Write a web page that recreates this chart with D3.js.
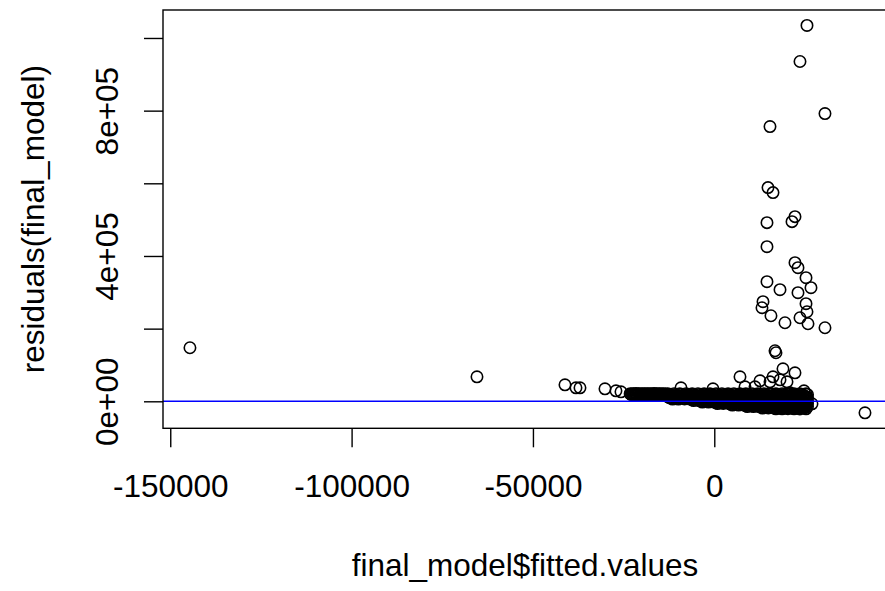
<!DOCTYPE html>
<html>
<head>
<meta charset="utf-8">
<script src="https://cdn.jsdelivr.net/npm/d3@7"></script>
<style>
    body { margin: 0; background: #fff; }
    text { font-family: Arial, "Liberation Sans", sans-serif; fill: #000; }
</style>
</head>
<body>
<div id="scene"></div>
<script>
// tick values and labels
const xTicks = [-150000, -100000, -50000, 0];
const yTicks = [0, 200000, 400000, 600000, 800000, 1000000];
const yTickLabels = {0: '0e+00', 400000: '4e+05', 800000: '8e+05'};

const xTitle = 'final_model$fitted.values';
const yTitle = 'residuals(final_model)';

// isolated points [fitted, residual]
const outlierPoints = [
    [-144570, 147380], [-65430, 67490], [-41170, 45460], [-38130, 37190],
    [-37030, 37190], [-30140, 34440], [-27110, 28930], [-25730, 26170],
    [25560, 1034430], [23630, 935250], [30520, 792000], [15360, 756200],
    [14810, 588150], [16190, 574380], [14530, 491730], [22250, 508260],
    [21430, 494490], [14530, 425620], [22250, 381540], [23080, 367770],
    [25290, 340220], [14530, 329200], [18120, 307160], [23080, 298900],
    [26660, 312670], [13430, 274100], [13150, 257570], [15630, 235540],
    [19490, 216250], [25290, 268590], [25560, 246550], [23630, 230030],
    [25840, 213500], [30520, 202480], [16740, 139120], [17010, 133610],
    [7090, 67490], [12600, 56470], [18940, 89530], [22250, 78510],
    [16190, 67490], [18120, 59230], [20050, 53720], [24730, 28930],
    [15360, 53720], [41550, -31680], [8470, 39950], [11220, 39950],
    [20870, 23420], [22800, 17910], [-9180, 37190], [-360, 34440],
    [26940, -6890]
];

// dense band near zero, in thousands [fitted, residual]
const bandPoints = [
    [-23.2, 21.0], [-22.8, 18.5], [-22.4, 20.6], [-22.0, 18.9], [-21.6, 21.2], [-21.2, 18.4],
    [-20.8, 20.8], [-20.3, 19.0], [-19.9, 21.1], [-19.5, 18.6], [-19.1, 20.5], [-18.7, 18.8],
    [-18.3, 21.0], [-17.9, 18.3], [-17.5, 20.7], [-17.0, 18.9], [-16.6, 21.3], [-16.2, 18.5],
    [-15.8, 20.6], [-15.4, 18.7], [-15.0, 21.0], [-14.6, 18.4], [-14.1, 20.9], [-13.7, 18.8],
    [-13.3, 20.4],
    [-12.8, 20.7], [-12.8, 12.6], [-11.9, 16.3], [-11.9, 8.5], [-11.1, 20.9], [-11.1, 12.2],
    [-10.3, 16.7], [-10.3, 8.1], [-9.5, 20.5], [-9.5, 12.5], [-8.6, 16.4], [-8.6, 8.4],
    [-7.8, 20.8], [-7.8, 12.3], [-7.0, 16.6], [-7.0, 8.2],
    [-6.1, 20.6], [-6.1, 12.4], [-6.1, 4.3], [-5.3, 16.5], [-5.3, 8.3],
    [-4.5, 20.9], [-4.5, 12.2], [-4.5, 4.0], [-3.7, 16.4], [-3.7, 8.5], [-3.7, 0.2],
    [-2.8, 20.7], [-2.8, 12.6], [-2.8, 4.1], [-2.0, 16.7], [-2.0, 8.1], [-2.0, -0.1],
    [-1.2, 20.5], [-1.2, 12.4], [-1.2, 4.2], [-0.4, 16.5], [-0.4, 8.4], [-0.4, 0.1],
    [0.5, 21.0], [0.5, 12.3], [0.5, 4.0], [0.5, -4.0],
    [1.3, 16.6], [1.3, 8.2], [1.3, -0.2],
    [2.1, 20.8], [2.1, 12.5], [2.1, 4.3], [2.1, -4.2],
    [2.9, 16.4], [2.9, 8.3], [2.9, 0.1],
    [3.8, 20.6], [3.8, 12.4], [3.8, 4.1], [3.8, -4.1],
    [4.6, 16.5], [4.6, 8.4], [4.6, 0.0], [4.6, -8.2],
    [5.4, 20.9], [5.4, 12.2], [5.4, 4.2], [5.4, -4.3],
    [6.3, 16.7], [6.3, 8.1], [6.3, 0.2], [6.3, -8.4],
    [7.1, 20.7], [7.1, 12.6], [7.1, 4.0], [7.1, -4.0],
    [7.9, 16.3], [7.9, 8.5], [7.9, -0.1], [7.9, -8.3],
    [8.7, 20.5], [8.7, 12.4], [8.7, 4.1], [8.7, -4.2], [8.7, -12.3],
    [9.6, 16.6], [9.6, 8.2], [9.6, 0.1], [9.6, -8.5],
    [10.4, 20.8], [10.4, 12.3], [10.4, 4.3], [10.4, -4.1], [10.4, -12.5],
    [11.2, 16.4], [11.2, 8.4], [11.2, 0.0], [11.2, -8.2],
    [12.0, 20.6], [12.0, 12.5], [12.0, 4.0], [12.0, -4.3], [12.0, -12.4],
    [12.9, 16.5], [12.9, 8.3], [12.9, -0.2], [12.9, -8.4], [12.9, -16.4],
    [13.7, 20.9], [13.7, 12.2], [13.7, 4.2], [13.7, -4.0], [13.7, -12.6],
    [14.5, 16.7], [14.5, 8.1], [14.5, 0.1], [14.5, -8.3], [14.5, -16.6],
    [15.3, 20.7], [15.3, 12.4], [15.3, 4.1], [15.3, -4.2], [15.3, -12.3],
    [16.2, 16.3], [16.2, 8.5], [16.2, 0.0], [16.2, -8.1], [16.2, -16.5],
    [17.0, 20.5], [17.0, 12.6], [17.0, 4.3], [17.0, -4.1], [17.0, -12.4], [17.0, -20.6],
    [17.8, 16.6], [17.8, 8.2], [17.8, -0.1], [17.8, -8.4], [17.8, -16.3],
    [18.7, 20.8], [18.7, 12.3], [18.7, 4.0], [18.7, -4.3], [18.7, -12.5], [18.7, -20.8],
    [19.5, 16.4], [19.5, 8.4], [19.5, 0.2], [19.5, -8.2], [19.5, -16.7],
    [20.3, 20.6], [20.3, 12.5], [20.3, 4.2], [20.3, -4.0], [20.3, -12.2], [20.3, -20.5],
    [21.1, 16.5], [21.1, 8.3], [21.1, 0.1], [21.1, -8.5], [21.1, -16.4],
    [22.0, 20.9], [22.0, 12.4], [22.0, 4.1], [22.0, -4.2], [22.0, -12.6], [22.0, -20.7],
    [22.8, 16.7], [22.8, 8.1], [22.8, -0.2], [22.8, -8.3], [22.8, -16.6],
    [23.6, 20.7], [23.6, 12.2], [23.6, 4.3], [23.6, -4.1], [23.6, -12.4], [23.6, -20.9],
    [24.5, 16.3], [24.5, 8.5], [24.5, 0.0], [24.5, -8.4], [24.5, -16.5],
    [25.3, 20.5], [25.3, 12.4], [25.3, 4.0], [25.3, -4.3], [25.3, -12.3], [25.3, -20.6]
];

// more points packed between the ones above, in thousands [fitted, residual]
const bandPointsInner = [
    [-23.0, 19.7], [-22.6, 19.9], [-22.2, 19.5], [-21.8, 20.1], [-21.4, 19.6], [-21.0, 19.8],
    [-20.5, 20.0], [-20.1, 19.4], [-19.7, 19.9], [-19.3, 19.7], [-18.9, 20.2], [-18.5, 19.5],
    [-18.1, 19.8], [-17.7, 19.6], [-17.2, 20.0], [-16.8, 19.7], [-16.4, 19.9], [-16.0, 19.4],
    [-15.6, 20.1], [-15.2, 19.6], [-14.8, 19.8], [-14.4, 19.5], [-13.9, 20.0], [-13.5, 19.7],
    [-12.4, 18.6], [-12.4, 10.3], [-11.5, 14.4], [-11.5, 6.2], [-10.7, 18.5], [-10.7, 10.4],
    [-9.9, 14.3], [-9.9, 6.1], [-9.1, 18.7], [-9.1, 10.2], [-8.2, 14.5], [-8.2, 6.3],
    [-7.4, 18.6], [-7.4, 10.3], [-6.6, 14.4], [-6.6, 6.2],
    [-5.7, 18.5], [-5.7, 10.4], [-5.7, 2.0], [-4.9, 14.3], [-4.9, 6.1],
    [-4.1, 18.7], [-4.1, 10.2], [-4.1, 2.1], [-3.3, 14.5], [-3.3, 6.3], [-3.3, -2.1],
    [-2.4, 18.6], [-2.4, 10.3], [-2.4, 1.9], [-1.6, 14.4], [-1.6, 6.2], [-1.6, -2.0],
    [-0.8, 18.5], [-0.8, 10.4], [-0.8, 2.0], [0.0, 14.3], [0.0, 6.1], [0.0, -2.2],
    [0.9, 18.7], [0.9, 10.2], [0.9, 2.1], [0.9, -6.2],
    [1.7, 14.5], [1.7, 6.3], [1.7, -2.1],
    [2.5, 18.6], [2.5, 10.3], [2.5, 1.9], [2.5, -6.1],
    [3.3, 14.4], [3.3, 6.2], [3.3, -2.0],
    [4.2, 18.5], [4.2, 10.4], [4.2, 2.0], [4.2, -6.3],
    [5.0, 14.3], [5.0, 6.1], [5.0, -2.2], [5.0, -10.4],
    [5.8, 18.7], [5.8, 10.2], [5.8, 2.1], [5.8, -6.2],
    [6.7, 14.5], [6.7, 6.3], [6.7, -2.1], [6.7, -10.3],
    [7.5, 18.6], [7.5, 10.3], [7.5, 1.9], [7.5, -6.1],
    [8.3, 14.4], [8.3, 6.2], [8.3, -2.0], [8.3, -10.5],
    [9.1, 18.5], [9.1, 10.4], [9.1, 2.0], [9.1, -6.3], [9.1, -14.5],
    [10.0, 14.3], [10.0, 6.1], [10.0, -2.2], [10.0, -10.4],
    [10.8, 18.7], [10.8, 10.2], [10.8, 2.1], [10.8, -6.2], [10.8, -14.4],
    [11.6, 14.5], [11.6, 6.3], [11.6, -2.1], [11.6, -10.3],
    [12.4, 18.6], [12.4, 10.3], [12.4, 1.9], [12.4, -6.1], [12.4, -14.6],
    [13.3, 14.4], [13.3, 6.2], [13.3, -2.0], [13.3, -10.5], [13.3, -18.6],
    [14.1, 18.5], [14.1, 10.4], [14.1, 2.0], [14.1, -6.3], [14.1, -14.5],
    [14.9, 14.3], [14.9, 6.1], [14.9, -2.2], [14.9, -10.4], [14.9, -18.5],
    [15.7, 18.7], [15.7, 10.2], [15.7, 2.1], [15.7, -6.2], [15.7, -14.4],
    [16.6, 14.5], [16.6, 6.3], [16.6, -2.1], [16.6, -10.3], [16.6, -18.7],
    [17.4, 18.6], [17.4, 10.3], [17.4, 1.9], [17.4, -6.1], [17.4, -14.6],
    [18.2, 14.4], [18.2, 6.2], [18.2, -2.0], [18.2, -10.5], [18.2, -18.6],
    [19.1, 18.5], [19.1, 10.4], [19.1, 2.0], [19.1, -6.3], [19.1, -14.5],
    [19.9, 14.3], [19.9, 6.1], [19.9, -2.2], [19.9, -10.4], [19.9, -18.5],
    [20.7, 18.7], [20.7, 10.2], [20.7, 2.1], [20.7, -6.2], [20.7, -14.4],
    [21.5, 14.5], [21.5, 6.3], [21.5, -2.1], [21.5, -10.3], [21.5, -18.7],
    [22.4, 18.6], [22.4, 10.3], [22.4, 1.9], [22.4, -6.1], [22.4, -14.6],
    [23.2, 14.4], [23.2, 6.2], [23.2, -2.0], [23.2, -10.5], [23.2, -18.6],
    [24.0, 18.5], [24.0, 10.4], [24.0, 2.0], [24.0, -6.3], [24.0, -14.5],
    [24.9, 14.3], [24.9, 6.1], [24.9, -2.2], [24.9, -10.4], [24.9, -18.5],
    [25.7, 18.7], [25.7, 10.2], [25.7, 2.1], [25.7, -6.2], [25.7, -14.4]
];

const width = 885;
const height = 591;
const fontSize = '31.5px';

// plot region edges
const plotLeft = 163;
const plotRight = 892;
const plotTop = 10;
const plotBottom = 428.3;

const xScale = d3.scaleLinear().domain([-152000, 49000]).range([plotLeft, plotRight]);
const yScale = d3.scaleLinear().domain([-74300, 1077000]).range([plotBottom, plotTop]);

const svg = d3.select('#scene')
    .append('svg')
    .attr('width', width)
    .attr('height', height);

svg.append('rect')
    .attr('width', width)
    .attr('height', height)
    .attr('fill', '#fff');

svg.append('clipPath')
    .attr('id', 'plotClip')
    .append('rect')
    .attr('x', plotLeft)
    .attr('y', plotTop)
    .attr('width', plotRight - plotLeft)
    .attr('height', plotBottom - plotTop);

const toUnits = d => [d[0] * 1000, d[1] * 1000];
const allPoints = outlierPoints
    .concat(bandPoints.map(toUnits))
    .concat(bandPointsInner.map(toUnits));

const chart = svg.append('g').attr('clip-path', 'url(#plotClip)');

chart.selectAll('circle')
    .data(allPoints)
    .enter()
    .append('circle')
    .attr('cx', d => xScale(d[0]))
    .attr('cy', d => yScale(d[1]))
    .attr('r', 5.7)
    .attr('fill', 'none')
    .attr('stroke', '#000')
    .attr('stroke-width', 1.6);

// abline(h = 0)
chart.append('line')
    .attr('x1', plotLeft)
    .attr('x2', plotRight)
    .attr('y1', yScale(0))
    .attr('y2', yScale(0))
    .attr('stroke', '#0000ff')
    .attr('stroke-width', 1.6);

// box
svg.append('rect')
    .attr('x', plotLeft)
    .attr('y', plotTop)
    .attr('width', plotRight - plotLeft)
    .attr('height', plotBottom - plotTop)
    .attr('fill', 'none')
    .attr('stroke', '#000')
    .attr('stroke-width', 1.4);

// x axis
const xAxis = svg.append('g')
    .attr('transform', `translate(0, ${plotBottom})`)
    .call(d3.axisBottom(xScale).tickValues(xTicks).tickSize(19).tickFormat(d => String(d)));

xAxis.select('.domain').remove();
xAxis.selectAll('.tick line').attr('stroke', '#000').attr('stroke-width', 1.4);
xAxis.selectAll('.tick text')
    .attr('y', 69)
    .attr('dy', null)
    .style('font-size', fontSize)
    .style('font-family', 'Arial, "Liberation Sans", sans-serif')
    .attr('fill', '#000');

// y axis
const yAxis = svg.append('g')
    .attr('transform', `translate(${plotLeft}, 0)`)
    .call(d3.axisLeft(yScale).tickValues(yTicks).tickSize(19).tickFormat(d => yTickLabels[d] || ''));

yAxis.select('.domain').remove();
yAxis.selectAll('.tick line').attr('stroke', '#000').attr('stroke-width', 1.4);
yAxis.selectAll('.tick text')
    .attr('x', null)
    .attr('dy', null)
    .attr('text-anchor', 'middle')
    .attr('transform', `translate(${118 - plotLeft}, 0) rotate(-90)`)
    .style('font-size', fontSize)
    .style('font-family', 'Arial, "Liberation Sans", sans-serif')
    .attr('fill', '#000');

// axis titles
svg.append('text')
    .attr('x', 525)
    .attr('y', 576)
    .attr('text-anchor', 'middle')
    .style('font-size', fontSize)
    .text(xTitle);

svg.append('text')
    .attr('transform', `translate(44, ${(plotTop + plotBottom) / 2}) rotate(-90)`)
    .attr('text-anchor', 'middle')
    .style('font-size', fontSize)
    .text(yTitle);
</script>
</body>
</html>
